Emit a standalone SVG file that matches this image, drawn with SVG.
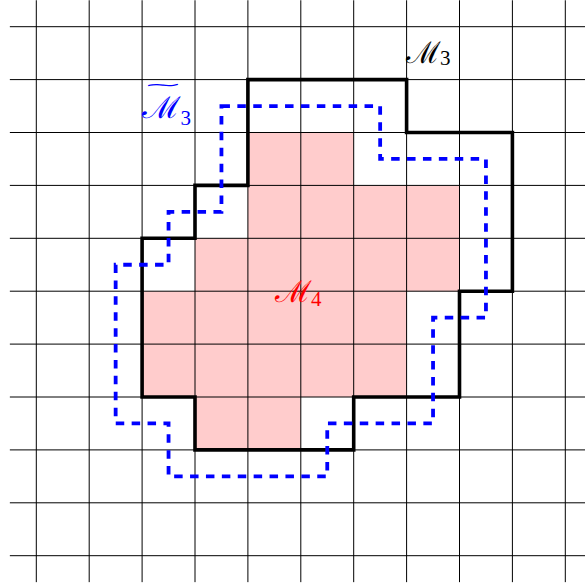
<svg xmlns="http://www.w3.org/2000/svg" width="585" height="585" viewBox="0 0 585 585">
<style>
.grid line{stroke:#000;stroke-width:1}
.m3{fill:none;stroke:#000;stroke-width:3.6;stroke-linejoin:miter}
.m3t{fill:none;stroke:#0000ff;stroke-width:3.8;stroke-dasharray:8.5 7.4}
.lbl{font-family:"DejaVu Serif","Liberation Serif",serif;font-size:30px}
.sub{font-family:"Liberation Serif","DejaVu Serif",serif;font-size:21px}
.tl{font-family:"DejaVu Sans",sans-serif;font-size:14px}
</style>
<rect width="585" height="585" fill="#fff"/>
<g id="M4-region">
<path d="M247.9,132.5H353.7V185.4H459.5V291.2H406.6V397H300.8V449.9H195V397H142.1V291.2H195V238.3H247.9Z" fill="#ffcccc"/>
</g>
<g id="grid" class="grid">
<line x1="9.85" y1="26.7" x2="591.75" y2="26.7"/>
<line x1="9.85" y1="79.6" x2="591.75" y2="79.6"/>
<line x1="9.85" y1="132.5" x2="591.75" y2="132.5"/>
<line x1="9.85" y1="185.4" x2="591.75" y2="185.4"/>
<line x1="9.85" y1="238.3" x2="591.75" y2="238.3"/>
<line x1="9.85" y1="291.2" x2="591.75" y2="291.2"/>
<line x1="9.85" y1="344.1" x2="591.75" y2="344.1"/>
<line x1="9.85" y1="397" x2="591.75" y2="397"/>
<line x1="9.85" y1="449.9" x2="591.75" y2="449.9"/>
<line x1="9.85" y1="502.8" x2="591.75" y2="502.8"/>
<line x1="9.85" y1="555.7" x2="591.75" y2="555.7"/>
<line x1="36.3" y1="0.25" x2="36.3" y2="582.15"/>
<line x1="89.2" y1="0.25" x2="89.2" y2="582.15"/>
<line x1="142.1" y1="0.25" x2="142.1" y2="582.15"/>
<line x1="195" y1="0.25" x2="195" y2="582.15"/>
<line x1="247.9" y1="0.25" x2="247.9" y2="582.15"/>
<line x1="300.8" y1="0.25" x2="300.8" y2="582.15"/>
<line x1="353.7" y1="0.25" x2="353.7" y2="582.15"/>
<line x1="406.6" y1="0.25" x2="406.6" y2="582.15"/>
<line x1="459.5" y1="0.25" x2="459.5" y2="582.15"/>
<line x1="512.4" y1="0.25" x2="512.4" y2="582.15"/>
<line x1="565.3" y1="0.25" x2="565.3" y2="582.15"/>
</g>
<g id="M3">
<path class="m3" d="M247.9,79.6H406.6V132.5H512.4V291.2H459.5V397H353.7V449.9H195V397H142.1V238.3H195V185.4H247.9Z"/>
</g>
<g id="M3-tilde">
<path class="m3t" d="M221.45,106.05H380.15V158.95H485.95V317.65H433.05V423.45H327.25V476.35H168.55V423.45H115.65V264.75H168.55V211.85H221.45Z"/>
</g>
<g id="label-M3">
<text class="lbl" x="406" y="63" fill="#000" textLength="35" lengthAdjust="spacingAndGlyphs">ℳ</text>
<text class="sub" x="440" y="65" fill="#000">3</text>
</g>
<g id="label-M3-tilde">
<text class="tl" x="163" y="90.5" fill="#0000ff" text-anchor="middle" transform="translate(163 0) scale(3.4 1) translate(-163 0)">~</text>
<text class="lbl" x="142" y="118" fill="#0000ff" textLength="39" lengthAdjust="spacingAndGlyphs">ℳ</text>
<text class="sub" x="180.5" y="125" fill="#0000ff">3</text>
</g>
<g id="label-M4">
<text class="lbl" x="275" y="302" fill="#ff0000" textLength="37" lengthAdjust="spacingAndGlyphs">ℳ</text>
<text class="sub" x="311" y="306" fill="#ff0000">4</text>
</g>
</svg>
